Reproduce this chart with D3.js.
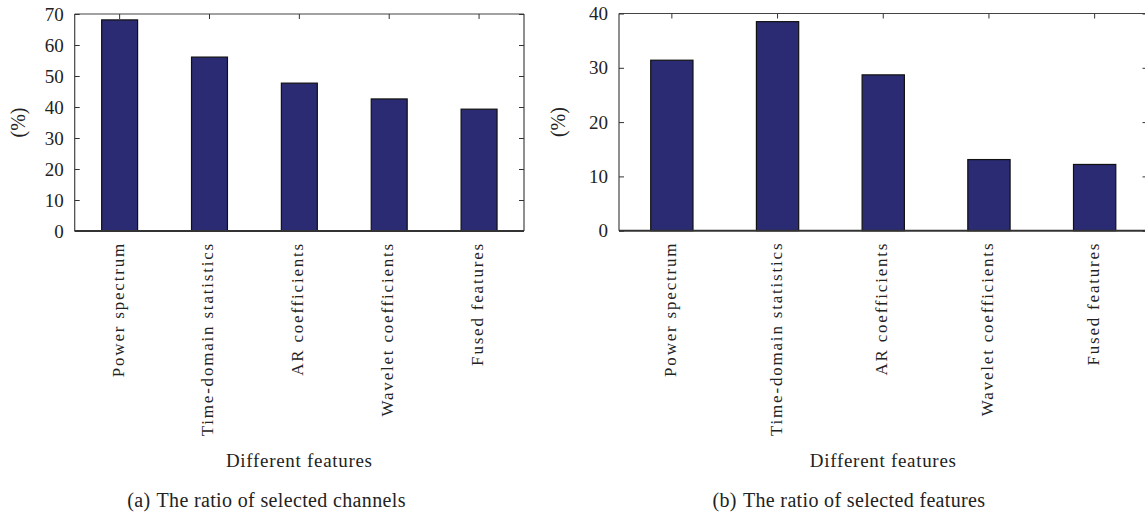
<!DOCTYPE html>
<html><head><meta charset="utf-8">
<script src="https://cdn.jsdelivr.net/npm/d3@7"></script>
<style>
body{margin:0;background:#fff;}
svg text{font-family:"Liberation Serif","Times New Roman",serif;fill:#222;}
</style></head>
<body><svg id="c" width="1145" height="516"></svg>
<script>
const categories = ["Power spectrum","Time-domain statistics","AR coefficients","Wavelet coefficients","Fused features"];
const channelsRatio = [68.1, 56.1, 47.7, 42.6, 39.3];
const featuresRatio = [31.4, 38.5, 28.7, 13.1, 12.2];
const ticksA = [0,10,20,30,40,50,60,70];
const ticksB = [0,10,20,30,40];
const xTitle = "Different features";
const yTitle = "(%)";
const captionA = ["(a)","The ratio of selected channels"];
const captionB = ["(b)","The ratio of selected features"];

const svg = d3.select("#c");

function panel(cfg){
  const g = svg.append("g");
  const x = d3.scaleBand().domain(categories).range([cfg.x0,cfg.x1]).paddingInner(0.6).paddingOuter(0.3);
  const y = d3.scaleLinear().domain([0,cfg.max]).range([cfg.y1,cfg.y0]);
  g.selectAll("rect.bar").data(cfg.values).enter().append("rect")
    .attr("class","bar")
    .attr("x",(d,i)=>x(categories[i]))
    .attr("width",x.bandwidth())
    .attr("y",d=>y(d))
    .attr("height",d=>y(0)-y(d))
    .attr("fill","#2a2b72").attr("stroke","#111").attr("stroke-width",1.2);
  const frame = "#444";
  g.append("line").attr("x1",cfg.x0).attr("x2",cfg.x1).attr("y1",y(cfg.max)).attr("y2",y(cfg.max)).attr("stroke",frame).attr("stroke-width",1.2);
  g.append("line").attr("x1",cfg.x0).attr("x2",cfg.x0).attr("y1",y(cfg.max)).attr("y2",y(0)).attr("stroke",frame).attr("stroke-width",1.2);
  g.append("line").attr("x1",cfg.x1).attr("x2",cfg.x1).attr("y1",y(cfg.max)).attr("y2",y(0)).attr("stroke",frame).attr("stroke-width",1.2);
  g.append("line").attr("x1",cfg.x0).attr("x2",cfg.x1).attr("y1",y(0)).attr("y2",y(0)).attr("stroke","#333").attr("stroke-width",2);
  const ya = d3.axisLeft(y).tickValues(cfg.ticks).tickSize(-5).tickPadding(11).tickFormat(d3.format("d"));
  const yg = g.append("g").attr("transform",`translate(${cfg.x0},0)`).call(ya);
  yg.select(".domain").remove();
  yg.selectAll("line").attr("stroke","#333");
  yg.selectAll("text").attr("font-size","19px").attr("fill","#222").attr("font-family","Liberation Serif, serif");
  const yr = d3.axisRight(y).tickValues(cfg.ticks).tickSize(-5).tickFormat("");
  const yrg = g.append("g").attr("transform",`translate(${cfg.x1},0)`).call(yr);
  yrg.select(".domain").remove();
  yrg.selectAll("line").attr("stroke","#333");
  const xt = d3.axisTop(x).tickSize(-5).tickFormat("");
  const xtg = g.append("g").attr("transform",`translate(0,${y(cfg.max)})`).call(xt);
  xtg.select(".domain").remove();
  xtg.selectAll("line").attr("stroke","#333");
  const xb = d3.axisBottom(x).tickSize(0).tickPadding(0);
  const xbg = g.append("g").attr("transform",`translate(0,${y(0)})`).call(xb);
  xbg.select(".domain").remove();
  xbg.selectAll("text")
    .attr("font-size","17px").attr("fill","#222").attr("font-family","Liberation Serif, serif")
    .attr("letter-spacing","1.8px")
    .attr("transform","rotate(-90)")
    .attr("text-anchor","end")
    .attr("x",-11).attr("y",-2).attr("dy","0.35em");
  g.append("text").attr("transform",`translate(${cfg.ylx},${(cfg.y0+cfg.y1)/2}) rotate(-90)`)
    .attr("text-anchor","middle").attr("dy","0.35em").attr("font-size","20px").text(yTitle);
  g.append("text").attr("x",(cfg.x0+cfg.x1)/2).attr("y",466.5).attr("text-anchor","middle")
    .attr("font-size","19px").attr("letter-spacing","0.7px").text(xTitle);
  const cap = g.append("text").attr("x",cfg.capx).attr("y",506.5).attr("text-anchor","middle")
    .attr("font-size","20px").attr("letter-spacing","0.35px");
  cap.append("tspan").text(cfg.caption[0]);
  cap.append("tspan").attr("dx",6).text(cfg.caption[1]);
}

panel({x0:74.7,x1:524,y0:14,y1:231,max:70,values:channelsRatio,ticks:ticksA,ylx:18,capx:266.5,caption:captionA});
panel({x0:619,x1:1147.5,y0:13.5,y1:230.7,max:40,values:featuresRatio,ticks:ticksB,ylx:558,capx:849,caption:captionB});
</script></body></html>
